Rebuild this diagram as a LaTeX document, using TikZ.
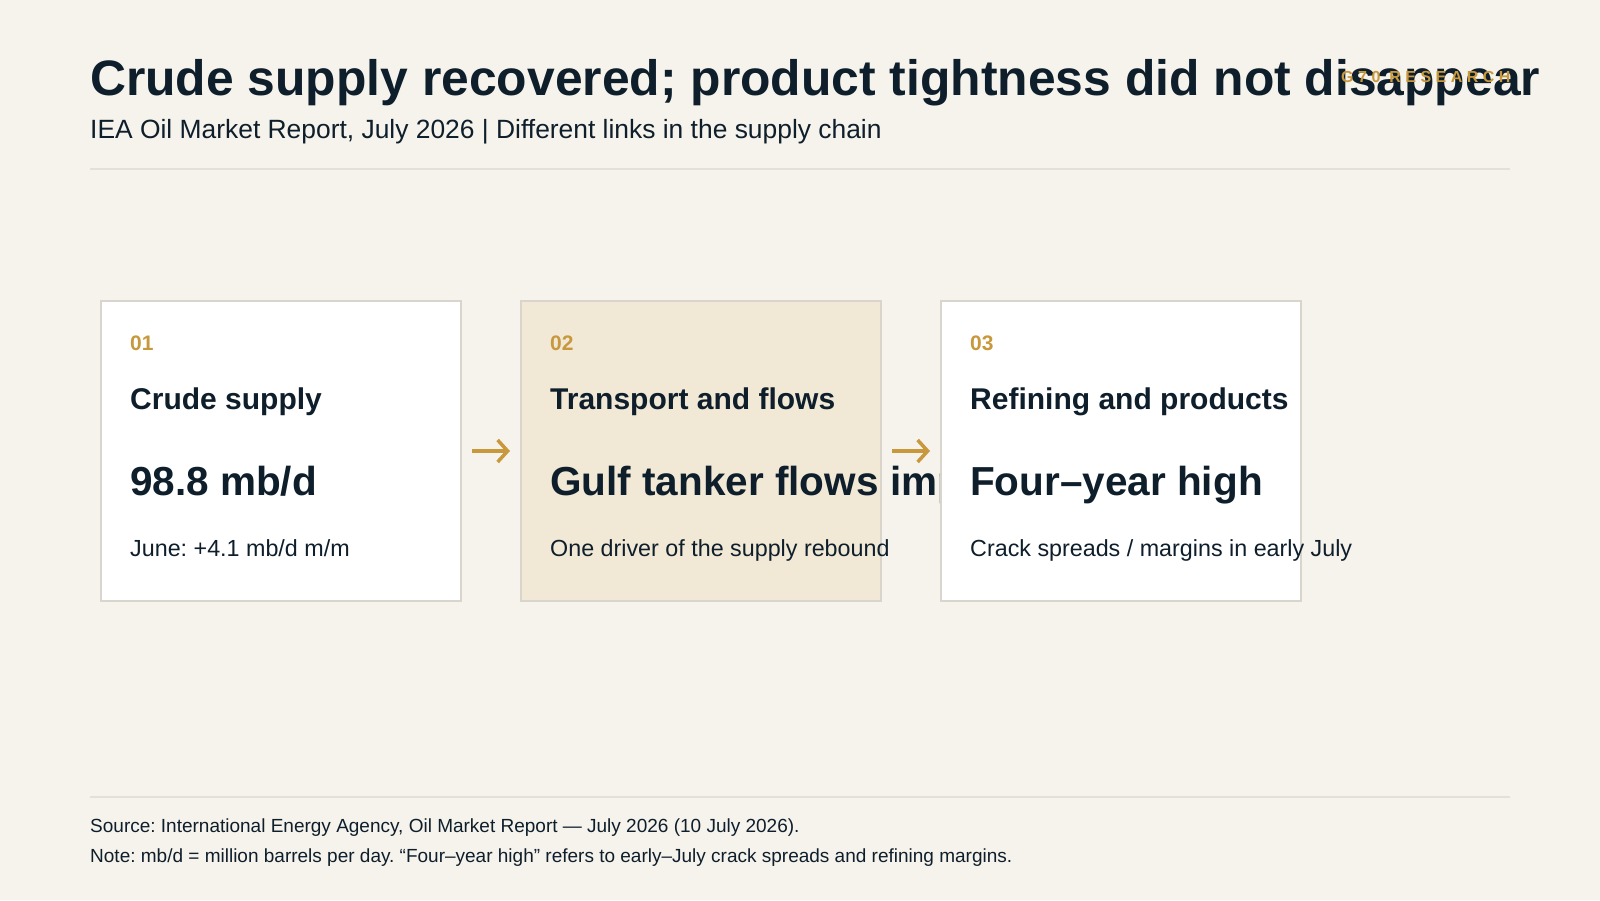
\documentclass[tikz,border=0pt]{standalone}
\usepackage{fontspec}
\setmainfont{Liberation Sans}
\newfontfamily\spacedfont[LetterSpace=28]{Liberation Sans}
\usetikzlibrary{arrows.meta}
\frenchspacing
\definecolor{bg}{HTML}{F6F3EC}
\definecolor{ink}{HTML}{0E1E2B}
\definecolor{gold}{HTML}{C8983C}
\definecolor{cardline}{HTML}{D9D5CC}
\definecolor{rulecol}{HTML}{E4E0D7}
\definecolor{tan}{HTML}{F1E8D6}
\tikzset{
  txt/.style={anchor=base west, inner sep=0pt, text=ink},
  titletxt/.style={txt, font=\fontsize{49.8}{60}\selectfont\bfseries},
  subtxt/.style={txt, font=\fontsize{26.4}{31}\selectfont},
  foottxt/.style={txt, font=\fontsize{19}{22}\selectfont},
  brand/.style={anchor=base west, inner sep=0pt, text=gold, font=\fontsize{16}{19}\selectfont\spacedfont\bfseries},
  card/.style={draw=cardline, line width=2pt, fill=white, minimum width=360pt, minimum height=300pt, anchor=north west, inner sep=0pt},
  cardtan/.style={card, fill=tan},
  numtxt/.style={anchor=base west, inner sep=0pt, text=gold, font=\fontsize{21}{25}\selectfont\bfseries},
  headtxt/.style={txt, font=\fontsize{30}{36}\selectfont\bfseries},
  bigtxt/.style={txt, font=\fontsize{40.5}{48}\selectfont\bfseries},
  smalltxt/.style={txt, font=\fontsize{23.3}{28}\selectfont},
  flowarrow/.style={draw=gold, line width=3.5pt, -{Straight Barb[length=10pt, width=22pt, line width=3.5pt]}, shorten <=10pt, shorten >=10pt},
  hrule/.style={draw=rulecol, line width=2pt}
}
\begin{document}
\begin{tikzpicture}[x=1pt, y=-1pt]
\fill[bg] (0,0) rectangle (1600,900);
\useasboundingbox (0,0) rectangle (1600,900);
% header
\node[titletxt] (title) at (90,95) {Crude supply recovered; product tightness did not disappear};
\node[brand] (brandname) at (1341,82) {G70 RESEARCH};
\node[subtxt] (subtitle) at (90,138) {IEA Oil Market Report, July 2026 | Different links in the supply chain};
\coordinate (rt1) at (90,169);
\coordinate (rt2) at (1510,169);
\draw[hrule] (rt1) -- (rt2);
% card 1
\node[card] (c1) at (100,300) {};
\node[numtxt] (n1) at (130,350) {01};
\node[headtxt] (h1) at (130,409) {Crude supply};
\node[bigtxt] (b1) at (130,495) {98.8 mb/d};
\node[smalltxt] (s1) at (130,556) {June: +4.1 mb/d m/m};
% card 2
\node[cardtan] (c2) at (520,300) {};
\node[numtxt] (n2) at (550,350) {02};
\node[headtxt] (h2) at (550,409) {Transport and flows};
\node[bigtxt] (b2) at (550,495) {Gulf tanker flows imp};
\node[smalltxt] (s2) at (550,556) {One driver of the supply rebound};
% card 3
\node[card] (c3) at (940,300) {};
\node[numtxt] (n3) at (970,350) {03};
\node[headtxt] (h3) at (970,409) {Refining and products};
\node[bigtxt] (b3) at (970,495) {Four–year high};
\node[smalltxt] (s3) at (970,556) {Crack spreads / margins in early July};
% arrows
\draw[flowarrow] (c1.east) -- (c2.west);
\draw[flowarrow] (c2.east) -- (c3.west);
% footer
\coordinate (rb1) at (90,797);
\coordinate (rb2) at (1510,797);
\draw[hrule] (rb1) -- (rb2);
\node[foottxt] (src) at (90,832) {Source: International Energy Agency, Oil Market Report — July 2026 (10 July 2026).};
\node[foottxt] (note) at (90,862) {Note: mb/d = million barrels per day. “Four–year high” refers to early–July crack spreads and refining margins.};
\end{tikzpicture}
\end{document}
